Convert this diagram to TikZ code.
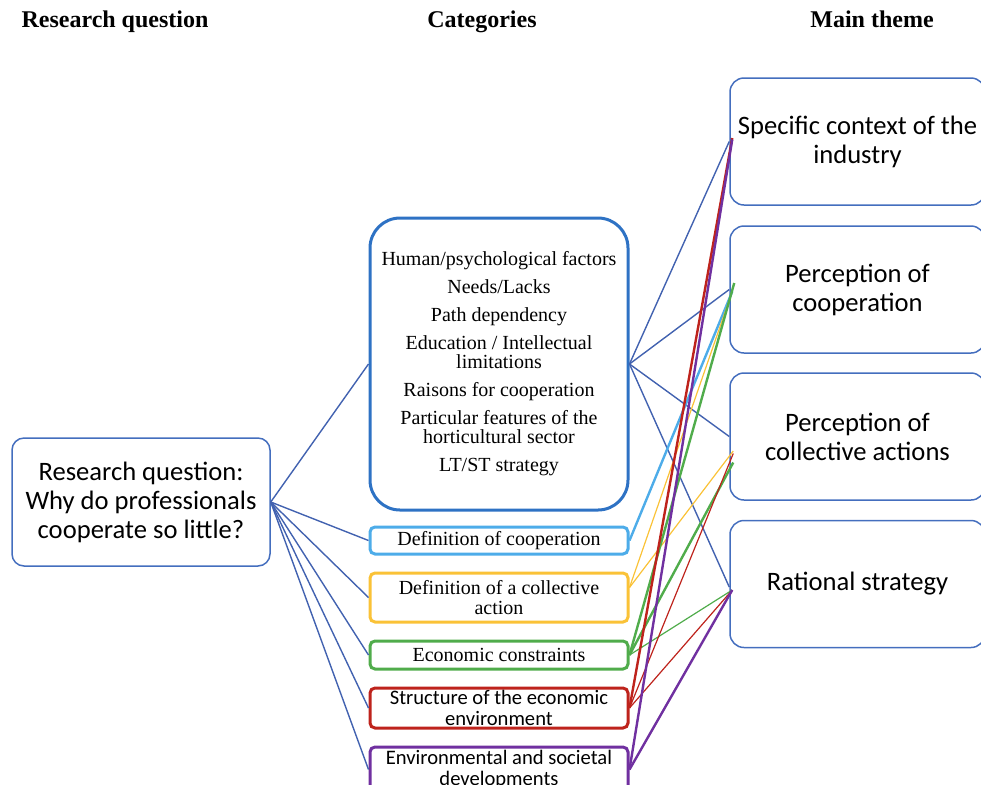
\documentclass[tikz,border=0pt]{standalone}
\usepackage{fontspec}
\setmainfont{Liberation Serif}
\newfontfamily\calibri{Carlito}
\definecolor{qblue}{RGB}{68,110,190}
\definecolor{lblue}{RGB}{66,98,176}
\definecolor{fblue}{RGB}{46,114,196}
\definecolor{cblue}{RGB}{77,172,233}
\definecolor{cyellow}{RGB}{250,194,55}
\definecolor{cgreen}{RGB}{80,172,75}
\definecolor{cred}{RGB}{190,35,28}
\definecolor{cpurple}{RGB}{112,48,160}
\begin{document}
\begin{tikzpicture}[
    x=0.5pt, y=-0.5pt,
    head/.style={font=\bfseries\fontsize{12}{14}\selectfont, anchor=base},
    question/.style={rectangle, draw=qblue, line width=0.75pt, rounded corners=6pt,
        minimum width=129pt, minimum height=64pt, inner sep=0pt, align=center,
        font=\calibri\fontsize{13.3}{14.5}\selectfont},
    theme/.style={rectangle, draw=qblue, line width=0.75pt, rounded corners=7pt,
        minimum width=127.5pt, minimum height=63.5pt, inner sep=0pt, align=center,
        font=\calibri\fontsize{13.3}{14.5}\selectfont},
    factors/.style={rectangle, draw=fblue, line width=1.5pt, rounded corners=15pt,
        minimum width=129pt, minimum height=146pt, inner sep=0pt, align=center,
        font=\fontsize{10}{9.5}\selectfont},
    category/.style={rectangle, line width=1.5pt, rounded corners=2.5pt,
        minimum width=129pt, inner sep=0pt, align=center,
        font=\fontsize{10}{10}\selectfont},
    sanscat/.style={category, font=\calibri\fontsize{10.3}{10.5}\selectfont},
    link/.style={draw=lblue, line width=0.7pt},
    strand/.style={line width=0.6pt},
    strand thick/.style={line width=1.2pt}
]
\useasboundingbox (0,0) rectangle (981,784);

\node (HeadQ) [head] at (115,27) {Research question};
\node (HeadC) [head] at (482,27) {Categories};
\node (HeadT) [head] at (872,27) {Main theme};

\node (Question) [question] at (141,502)
  {Research question:\\Why do professionals\\cooperate so little?};

\node (Factors) [factors] at (499,364)
  {Human/psychological factors\\[4.5pt]
   Needs/Lacks\\[4.5pt]
   Path dependency\\[4.5pt]
   Education / Intellectual\\limitations\\[4.5pt]
   Raisons for cooperation\\[4.5pt]
   Particular features of the\\horticultural sector\\[4.5pt]
   LT/ST strategy};
\node (DefCoop) [category, draw=cblue, minimum height=13.5pt] at (499,540.5)
  {Definition of cooperation};
\node (DefColl) [category, draw=cyellow, minimum height=24.5pt] at (499,597.5)
  {Definition of a collective\\action};
\node (EcoCons) [category, draw=cgreen, minimum height=14pt] at (499,655)
  {Economic constraints};
\node (EcoEnv) [sanscat, draw=cred, minimum height=20pt] at (499,708)
  {Structure of the economic\\environment};
\node (SocDev) [sanscat, draw=cpurple, minimum height=22.5pt] at (499,769.5)
  {Environmental and societal\\developments};

\node (Context) [theme] at (857.5,141.5) {Specific context of the\\industry};
\node (PercCoop) [theme] at (857.5,289.5) {Perception of\\cooperation};
\node (PercColl) [theme] at (857.5,436.5) {Perception of\\collective actions};
\node (Strategy) [theme] at (857.5,584) {Rational strategy};

% question to categories
\draw [link] (Question.east) -- (Factors.west);
\draw [link] (Question.east) -- (DefCoop.west);
\draw [link] (Question.east) -- (DefColl.west);
\draw [link] (Question.east) -- (EcoCons.west);
\draw [link] (Question.east) -- (EcoEnv.west);
\draw [link] (Question.east) -- (SocDev.west);

% categories to themes
\draw [link] (Factors.east) -- (Context.west);
\draw [link] (Factors.east) -- (PercCoop.west);
\draw [link] (Factors.east) -- (PercColl.west);
\draw [link] (Factors.east) -- ([shift={(0,3)}]Strategy.west);

\draw [strand thick, cblue] (DefCoop.east) -- ([shift={(3,2)}]PercCoop.west);

\draw [strand, cyellow] ([shift={(0,-10)}]DefColl.east) -- ([shift={(3,2)}]PercCoop.west);
\draw [strand, cyellow] ([shift={(0,-10)}]DefColl.east) -- ([shift={(4,14.5)}]PercColl.west);

\draw [strand thick, cgreen] (EcoCons.east) -- ([shift={(5,-6.5)}]PercCoop.west);
\draw [strand thick, cgreen] (EcoCons.east) -- ([shift={(4,26)}]PercColl.west);
\draw [strand, cgreen] (EcoCons.east) -- ([shift={(3,6)}]Strategy.west);

\draw [strand thick, cred] (EcoEnv.east) -- ([shift={(3,-3.5)}]Context.west);
\draw [strand, cred] (EcoEnv.east) -- ([shift={(4,17)}]PercColl.west);
\draw [strand, cred] (EcoEnv.east) -- ([shift={(3,6)}]Strategy.west);

\draw [strand thick, cpurple] (SocDev.east) -- ([shift={(3,-2)}]Context.west);
\draw [strand thick, cpurple] (SocDev.east) -- ([shift={(3,6)}]Strategy.west);

\end{tikzpicture}
\end{document}
